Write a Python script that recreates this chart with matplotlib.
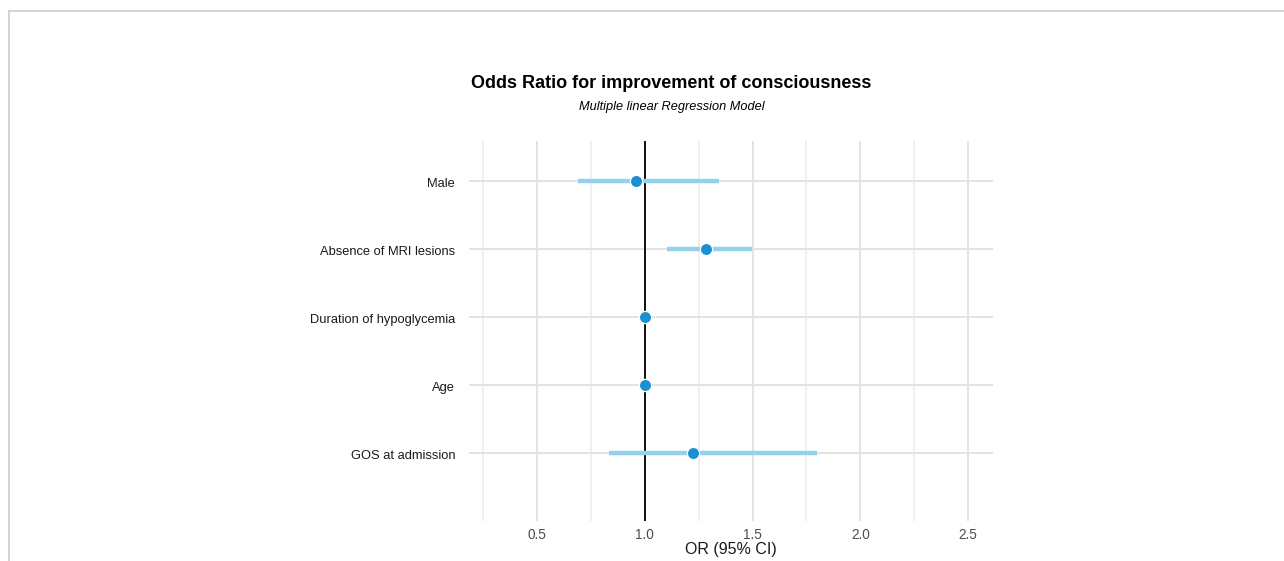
import numpy as np
import matplotlib.pyplot as plt
import matplotlib.transforms as mtransforms
from matplotlib.lines import Line2D

plt.rcParams['font.family'] = ['Liberation Sans', 'DejaVu Sans']

# data
labels = ['Male', 'Absence of MRI lesions', 'Duration of hypoglycemia', 'Age', 'GOS at admission']
odds = [0.961, 1.285, 1.0, 1.0, 1.225]
ci_low = [0.691, 1.105, 0.995, 0.996, 0.832]
ci_high = [1.345, 1.499, 1.005, 1.004, 1.801]
xticks = [0.5, 1.0, 1.5, 2.0, 2.5]

W, H = 1284, 561
fig = plt.figure(figsize=(W / 100, H / 100), dpi=100)
# panel in pixel coords: x 469..993, y 141..521
ax = fig.add_axes([469 / W, 1 - 521 / H, (993 - 469) / W, (521 - 141) / H])

ypos = np.arange(len(labels))

ax.set_xlim(0.184, 2.616)
ax.set_ylim(len(labels), -0.588)

ax.set_xticks(xticks)
ax.set_xticklabels([f'{t:.1f}' for t in xticks])
ax.set_xticks(np.arange(0.25, 2.6, 0.5), minor=True)
ax.set_yticks(ypos)
ax.set_yticklabels(labels)

ax.grid(True, which='major', axis='both', color='#e3e3e3', linewidth=1.4)
ax.grid(True, which='minor', axis='x', color='#ebebeb', linewidth=1.1)
ax.set_axisbelow(True)
for s in ax.spines.values():
    s.set_visible(False)
ax.tick_params(which='both', length=0)
ax.tick_params(axis='x', labelsize=9.8, labelcolor='#4d4d4d', pad=5)
ax.tick_params(axis='y', labelsize=9.3, labelcolor='#1a1a1a', pad=10)
# nudge y labels down a couple of pixels
shift = mtransforms.ScaledTranslation(0, -2 / 100, fig.dpi_scale_trans)
for t in ax.get_yticklabels():
    t.set_transform(t.get_transform() + shift)

ax.axvline(1.0, color='black', linewidth=1.3, zorder=2)
ax.hlines(ypos, ci_low, ci_high, color='#93d1ec', linewidth=3.2, zorder=3)
ax.plot(odds, ypos, 'o', color='#1a8fd2', markersize=8.8, markeredgecolor='white',
        markeredgewidth=0.9, zorder=4)

ax.set_xlabel('OR (95% CI)', fontsize=11.5, color='#1a1a1a', labelpad=0)

fig.text(671.5 / W, 1 - 84 / H, 'Odds Ratio for improvement of consciousness',
         ha='center', va='center', fontsize=13, fontweight='bold')
fig.text(672 / W, 1 - 107 / H, 'Multiple linear Regression Model',
         ha='center', va='center', fontsize=9.2, style='italic')

# screenshot frame
fig.add_artist(Line2D([9 / W, 1], [1 - 11 / H, 1 - 11 / H], color='#cccccc', linewidth=1.2))
fig.add_artist(Line2D([9 / W, 9 / W], [0, 1 - 11 / H], color='#cccccc', linewidth=1.2))

fig.savefig('out.png', dpi=100)
